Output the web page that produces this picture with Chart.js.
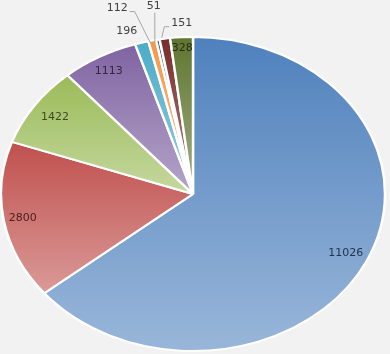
<!DOCTYPE html>
<html>
<head>
<meta charset="utf-8">
<script src="https://cdn.jsdelivr.net/npm/chart.js@4.4.0/dist/chart.umd.min.js"></script>
<style>
  html, body { margin: 0; padding: 0; background: #f2f2f2; }
  #wrap { width: 390px; height: 354px; position: relative; }
</style>
</head>
<body>
<div id="wrap"><canvas id="pie"></canvas></div>
<script>
const categories = ['A', 'B', 'C', 'D', 'E', 'F', 'G', 'H', 'I'];
const values = [11026, 2800, 1422, 1113, 196, 112, 51, 151, 328];
const sliceColors = ['#4F81BD', '#C0504D', '#9BBB59', '#8064A2', '#4BACC6', '#F79646', '#2C4D75', '#772C2A', '#5F7530'];

// label placement: fraction of radius for labels inside, pixel offset from the slice edge for outside ones
const insideRadius = [0.88, 0.9, 0.87, 0.9, null, null, null, null, 0.93];
const outsideOffset = [null, null, null, null, [-15, -12], [-35, -32], [-4, -34], [17, -16], null];
const leaderLine = [false, false, false, false, false, true, true, true, false];

const X_STRETCH = 192 / 157; // the reference pie is an ellipse

function mixColor(hex, target, amt) {
  const n = parseInt(hex.slice(1), 16);
  const r = (n >> 16) & 255, g = (n >> 8) & 255, b = n & 255;
  const mix = c => Math.round(c + (target - c) * amt);
  return `rgb(${mix(r)},${mix(g)},${mix(b)})`;
}

// stretch the pie horizontally and give every slice its own top-to-bottom gradient
const stretchPlugin = {
  id: 'stretch',
  beforeDatasetsDraw(chart) {
    const ctx = chart.ctx;
    const arcs = chart.getDatasetMeta(0).data;
    arcs.forEach((arc, i) => {
      let yMin = arc.y, yMax = arc.y;
      for (let k = 0; k <= 40; k++) {
        const t = arc.startAngle + (arc.endAngle - arc.startAngle) * k / 40;
        const y = arc.y + Math.sin(t) * arc.outerRadius;
        yMin = Math.min(yMin, y);
        yMax = Math.max(yMax, y);
      }
      const grad = ctx.createLinearGradient(0, yMin, 0, yMax);
      grad.addColorStop(0, sliceColors[i]);
      grad.addColorStop(1, mixColor(sliceColors[i], 255, 0.42));
      arc.options.backgroundColor = grad;
    });
    const cx = arcs[0].x;
    ctx.save();
    ctx.translate(cx, 0);
    ctx.scale(X_STRETCH, 1);
    ctx.translate(-cx, 0);
  },
  afterDatasetsDraw(chart) {
    chart.ctx.restore();
  }
};

const labelPlugin = {
  id: 'sliceLabels',
  afterDraw(chart) {
    const ctx = chart.ctx;
    const arcs = chart.getDatasetMeta(0).data;
    ctx.save();
    ctx.font = '11px "DejaVu Sans", Verdana, sans-serif';
    ctx.textAlign = 'center';
    ctx.textBaseline = 'middle';
    arcs.forEach((arc, i) => {
      const mid = (arc.startAngle + arc.endAngle) / 2;
      const rx = arc.outerRadius * X_STRETCH, ry = arc.outerRadius;
      const text = String(values[i]);
      let lx, ly;
      if (insideRadius[i] !== null) {
        lx = arc.x + Math.cos(mid) * rx * insideRadius[i];
        ly = arc.y + Math.sin(mid) * ry * insideRadius[i];
        ctx.fillStyle = mixColor(sliceColors[i], 0, 0.6);
      } else {
        const ex = arc.x + Math.cos(mid) * rx;
        const ey = arc.y + Math.sin(mid) * ry;
        lx = ex + outsideOffset[i][0];
        ly = ey + outsideOffset[i][1];
        if (leaderLine[i]) {
          const w = ctx.measureText(text).width;
          ctx.strokeStyle = '#a6a6a6';
          ctx.lineWidth = 1;
          ctx.beginPath();
          if (outsideOffset[i][0] < -10) {
            ctx.moveTo(lx + w / 2 + 2, ly + 3);
            ctx.lineTo(lx + w / 2 + 7, ly + 3);
            ctx.lineTo(ex - 2, ey + 2);
          } else if (outsideOffset[i][0] > 10) {
            ctx.moveTo(lx - w / 2 - 2, ly + 4);
            ctx.lineTo(lx - w / 2 - 7, ly + 4);
            ctx.lineTo(ex - 3, ey - 1);
          } else {
            ctx.moveTo(lx + 1, ly + 7);
            ctx.lineTo(lx + 1, ey + 4);
          }
          ctx.stroke();
        }
        ctx.fillStyle = '#404040';
      }
      ctx.fillText(text, lx, ly);
    });
    ctx.restore();
  }
};

new Chart(document.getElementById('pie'), {
  type: 'pie',
  data: {
    labels: categories,
    datasets: [{
      data: values,
      backgroundColor: c => sliceColors[c.dataIndex],
      borderColor: '#ffffff',
      borderWidth: 2
    }]
  },
  options: {
    responsive: true,
    maintainAspectRatio: false,
    animation: false,
    events: [],
    layout: { padding: { top: 36, bottom: 2, left: 35, right: 39 } },
    plugins: {
      legend: { display: false },
      tooltip: { enabled: false }
    }
  },
  plugins: [stretchPlugin, labelPlugin]
});
</script>
</body>
</html>
